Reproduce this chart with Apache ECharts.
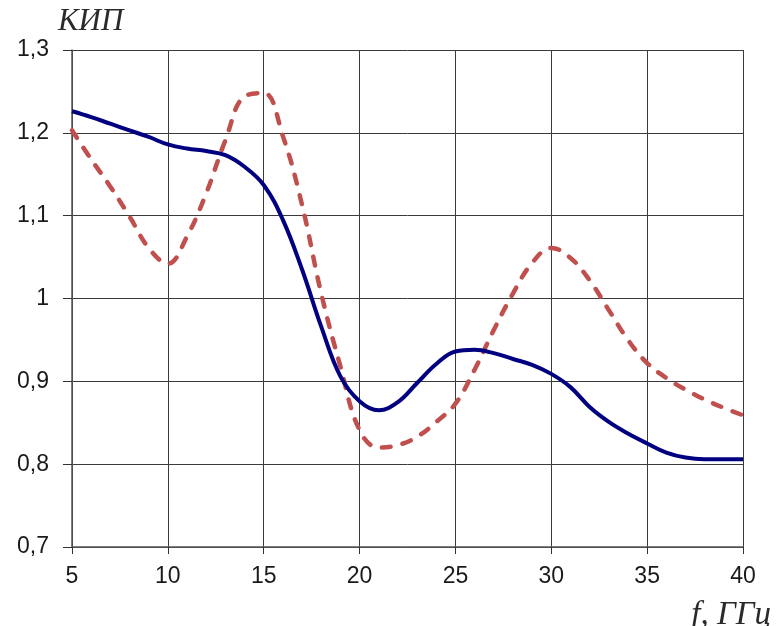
<!DOCTYPE html>
<html>
<head>
<meta charset="utf-8">
<script src="https://cdn.jsdelivr.net/npm/echarts@6/dist/echarts.min.js"></script>
<style>
  html, body { margin: 0; padding: 0; background: #fff; }
  #chart { width: 776px; height: 626px; }
</style>
</head>
<body>
<div id="chart"></div>
<script>
// Frequency, GHz
const freq = [5, 6, 7, 8, 9, 10, 11, 12, 13, 14, 15, 16, 17, 18, 19, 20, 21, 22, 23, 24, 25, 26, 27, 28, 29, 30, 31, 32, 33, 34, 35, 36, 37, 38, 39, 40];
// Aperture efficiency (КИП), solid curve
const kipSolid = [1.226, 1.219, 1.211, 1.203, 1.195, 1.186, 1.181, 1.178, 1.173, 1.159, 1.137, 1.095, 1.035, 0.966, 0.906, 0.876, 0.865, 0.875, 0.898, 0.921, 0.936, 0.938, 0.934, 0.927, 0.920, 0.909, 0.893, 0.869, 0.851, 0.837, 0.825, 0.814, 0.808, 0.806, 0.806, 0.806];
// Aperture efficiency (КИП), dashed curve
const kipDashed = [1.203, 1.168, 1.135, 1.099, 1.061, 1.042, 1.075, 1.127, 1.191, 1.244, 1.248, 1.196, 1.113, 1.006, 0.918, 0.841, 0.820, 0.823, 0.833, 0.851, 0.873, 0.914, 0.962, 1.006, 1.043, 1.061, 1.049, 1.022, 0.986, 0.950, 0.922, 0.904, 0.890, 0.878, 0.868, 0.859];
// Axis ticks
const xTicks = [5, 10, 15, 20, 25, 30, 35, 40];
const yTicks = [0.7, 0.8, 0.9, 1.0, 1.1, 1.2, 1.3];

const pair = (xs, ys) => xs.map((x, i) => [x, ys[i]]);
const fmtComma = v => {
  const r = Math.round(v * 10) / 10;
  return (Number.isInteger(r) ? String(r) : r.toFixed(1)).replace('.', ',');
};

const labelFont = 'Liberation Sans, Arial, sans-serif';
const nameFont = 'Liberation Serif, Times New Roman, serif';

const chart = echarts.init(document.getElementById('chart'), null, { renderer: 'canvas' });
chart.setOption({
  animation: false,
  backgroundColor: '#ffffff',
  grid: { left: 72, right: 33, top: 50, bottom: 79, containLabel: false },
  xAxis: {
    type: 'value',
    min: xTicks[0],
    max: xTicks[xTicks.length - 1],
    interval: 5,
    axisLine: { show: true, lineStyle: { color: '#555', width: 1.5 } },
    axisTick: { show: true, length: 7, lineStyle: { color: '#333' } },
    axisLabel: { color: '#1a1a1a', fontFamily: labelFont, fontSize: 23, margin: 18 },
    splitLine: { show: true, lineStyle: { color: '#3a3a3a', width: 1 } }
  },
  yAxis: {
    type: 'value',
    min: yTicks[0],
    max: yTicks[yTicks.length - 1],
    interval: 0.1,
    axisLine: { show: true, lineStyle: { color: '#555', width: 1.5 } },
    axisTick: { show: true, length: 9, lineStyle: { color: '#333' } },
    axisLabel: { color: '#1a1a1a', fontFamily: labelFont, fontSize: 23, margin: 23, formatter: fmtComma },
    splitLine: { show: true, lineStyle: { color: '#3a3a3a', width: 1 } }
  },
  graphic: [
    {
      type: 'text', x: 58, y: 22,
      style: { text: 'КИП', fontFamily: nameFont, fontStyle: 'italic', fontSize: 31, fill: '#2a2a2a', align: 'left', verticalAlign: 'middle' }
    },
    {
      type: 'text', x: 771, y: 615,
      style: { text: 'f, ГГц', fontFamily: nameFont, fontStyle: 'italic', fontSize: 33, fill: '#2a2a2a', align: 'right', verticalAlign: 'middle' }
    }
  ],
  series: [
    {
      type: 'line',
      data: pair(freq, kipDashed),
      smooth: 0.4,
      showSymbol: false,
      lineStyle: { color: '#C0504D', width: 4.5, type: [9, 12], cap: 'round' },
      z: 3
    },
    {
      type: 'line',
      data: pair(freq, kipSolid),
      smooth: 0.4,
      showSymbol: false,
      lineStyle: { color: '#000080', width: 4 },
      z: 4
    }
  ]
});
</script>
</body>
</html>
